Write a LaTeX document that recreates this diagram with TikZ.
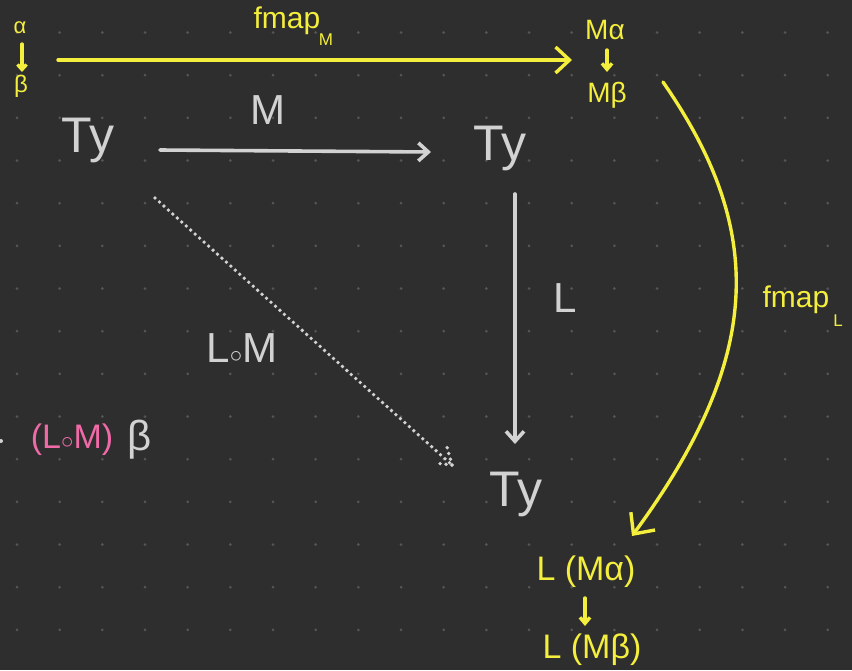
\documentclass[tikz,border=0pt]{standalone}
\usepackage{fontspec}
\setmainfont{Liberation Sans}
\usetikzlibrary{arrows.meta,positioning,calc}

\definecolor{board}{HTML}{2E2E2E}
\definecolor{griddot}{HTML}{555555}
\definecolor{chalk}{HTML}{D2D2D2}
\definecolor{marker}{HTML}{F4EE3C}
\definecolor{pinkink}{HTML}{F06AA8}

\begin{document}
\begin{tikzpicture}[x=1pt, y=-1pt, >={Straight Barb[length=10pt,width=18pt]},
    chalkline/.style={chalk, line width=3.6pt, line cap=round},
    markline/.style={marker, line width=3.4pt, line cap=round},
    dotline/.style={chalk, line width=3.8pt, line cap=round, dash pattern=on 0pt off 6pt},
    big/.style={text=chalk, inner sep=0pt, font=\fontsize{50}{56}\selectfont},
    tag/.style={text=chalk, inner sep=0pt, font=\fontsize{42}{48}\selectfont},
    note/.style={text=marker, inner sep=0pt, font=\fontsize{#1}{#1}\selectfont},
    note/.default=24]
        \fill[board] (0,0) rectangle (852,670);
        \useasboundingbox (0,0) rectangle (852,670);
        \foreach \i in {0,...,19}
            \foreach \j in {0,...,14}
                \fill[griddot] (17+42.67*\i, 32.5+42.67*\j) circle (1.5);

        % the three objects
        \node[big] (tyA) at (88,140) {Ty};
        \node[big] (tyB) at (500,148) {Ty};
        \node[big] (tyC) at (516,494) {Ty};
        \coordinate (mStart) at (160,150);
        \coordinate (mEnd) at (431,152);
        \coordinate (lStart) at (515,194);
        \coordinate (lEnd) at (515,444);
        \coordinate (dStart) at (155,198);
        \coordinate (dEnd) at (452,465);
        \draw[chalkline, ->] (mStart) -- (mEnd);
        \draw[chalkline, ->] (lStart) -- (lEnd);
        \draw[dotline] (dStart) -- (dEnd);
        \draw[dotline] (dEnd) -- ++(-5,-18);
        \draw[dotline] (dEnd) -- ++(-17,-2);
        \node[tag] (mLab) at (268,110) {M};
        \node[tag] (lLab) at (565,298) {L};
        \node[tag] (lmLab) at (242,348) {L$\circ$M};

        % yellow notes
        \node[note=22] (alpha) at (20,28) {α};
        \node[note=24] (beta) at (21,86) {β};
        \draw[markline, -{Straight Barb[length=5pt,width=9pt]}] (22,44) -- (22,72);
        \coordinate (fmStart) at (58,60);
        \coordinate (fmEnd) at (572,60);
        \draw[markline, -{Straight Barb[length=14pt,width=26pt]}] (fmStart) -- (fmEnd);
        \node[note=30] (fmapM) at (287,21) {fmap};
        \node[note=17] (subM) at (326,40) {M};
        \node[note=28] (mAlpha) at (605,30) {Mα};
        \node[note=28] (mBeta) at (607,95) {Mβ};
        \draw[markline, -{Straight Barb[length=6pt,width=10pt]}] (607,50) -- (607,72);
        \coordinate (cStart) at (663,82);
        \coordinate (cEnd) at (632,536);
        \draw[markline, -{Straight Barb[length=16pt,width=30pt]}] (cStart) .. controls (765,229) and (765,355) .. (cEnd);
        \node[note=30] (fmapL) at (796,300) {fmap};
        \node[note=17] (subL) at (838,321) {L};
        \node[note=34] (lmAlpha) at (586,572) {L (Mα)};
        \node[note=34] (lmBeta) at (592,650) {L (Mβ)};
        \draw[markline, -{Straight Barb[length=6pt,width=10pt]}] (585,598) -- (585,626);

        % composite applied
        \node[text=pinkink, inner sep=0pt, font=\fontsize{34}{40}\selectfont] (lmPink) at (72,440) {(L$\circ$M)};
        \node[tag, right=14pt of lmPink] (betaW) {β};
        \fill[chalk] (1,441) circle (2);
      \end{tikzpicture}
\end{document}
